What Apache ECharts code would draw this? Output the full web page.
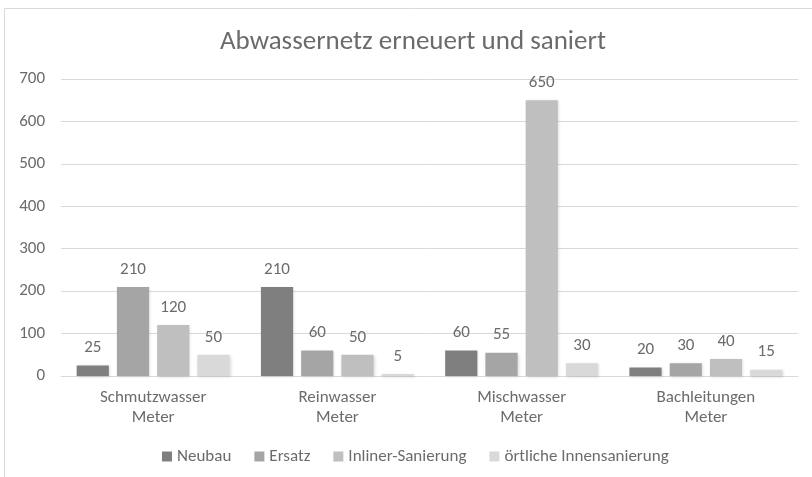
<!DOCTYPE html>
<html><head><meta charset="utf-8">
<script src="https://cdn.jsdelivr.net/npm/echarts@6/dist/echarts.min.js"></script>
<style>html,body{margin:0;padding:0;background:#fff}#c{width:812px;height:477px}</style>
</head><body><div id="c"></div>
<script>
const categories = ['Schmutzwasser\nMeter', 'Reinwasser\nMeter', 'Mischwasser\nMeter', 'Bachleitungen\nMeter'];
const seriesNames = ['Neubau', 'Ersatz', 'Inliner-Sanierung', 'örtliche Innensanierung'];
const neubau = [25, 210, 60, 20];
const ersatz = [210, 60, 55, 30];
const inliner = [120, 50, 650, 40];
const oertlich = [50, 5, 30, 15];
const yTicks = [0, 100, 200, 300, 400, 500, 600, 700];
const colors = ['#7f7f7f', '#a5a5a5', '#bfbfbf', '#d9d9d9'];
const FONT = "Carlito, 'Liberation Sans Narrow', 'DejaVu Sans Condensed', sans-serif";
const TXT = '#6b6b6b';
const values = [neubau, ersatz, inliner, oertlich];

const chart = echarts.init(document.getElementById('c'));
chart.setOption({
  animation: false,
  textStyle: {fontFamily: FONT},
  graphic: [{type: 'rect', shape: {x: 4.5, y: 8.5, width: 820, height: 480}, style: {fill: 'none', stroke: '#d9d9d9', lineWidth: 1}, silent: true}],
  title: {text: 'Abwassernetz erneuert und saniert', left: 215, top: 24,
    textStyle: {fontFamily: FONT, fontSize: 27, fontWeight: 'normal', color: TXT, lineHeight: 27}},
  legend: {bottom: 7, left: 157, itemWidth: 10, itemHeight: 10, itemGap: 23, icon: 'rect',
    textStyle: {fontFamily: FONT, fontSize: 17, color: TXT}},
  grid: {left: 61, right: 14, top: 79, bottom: 101},
  xAxis: {type: 'category', data: categories,
    axisLine: {lineStyle: {color: '#d9d9d9'}}, axisTick: {show: false},
    axisLabel: {fontFamily: FONT, fontSize: 17, color: TXT, lineHeight: 20, margin: 12}},
  yAxis: {type: 'value', min: yTicks[0], max: yTicks[yTicks.length - 1], interval: 100,
    axisLine: {show: false}, axisTick: {show: false},
    splitLine: {lineStyle: {color: '#d9d9d9'}},
    axisLabel: {fontFamily: FONT, fontSize: 17, color: TXT, margin: 16}},
  series: seriesNames.map((n, i) => ({
    name: n, type: 'bar', data: values[i], barGap: '25%', barCategoryGap: '17%',
    itemStyle: {color: colors[i], shadowColor: 'rgba(0,0,0,0.15)', shadowBlur: 3, shadowOffsetX: 1, shadowOffsetY: 1},
    label: {show: true, position: 'top', distance: 9, fontFamily: FONT, fontSize: 17, color: TXT}
  }))
});
</script></body></html>
